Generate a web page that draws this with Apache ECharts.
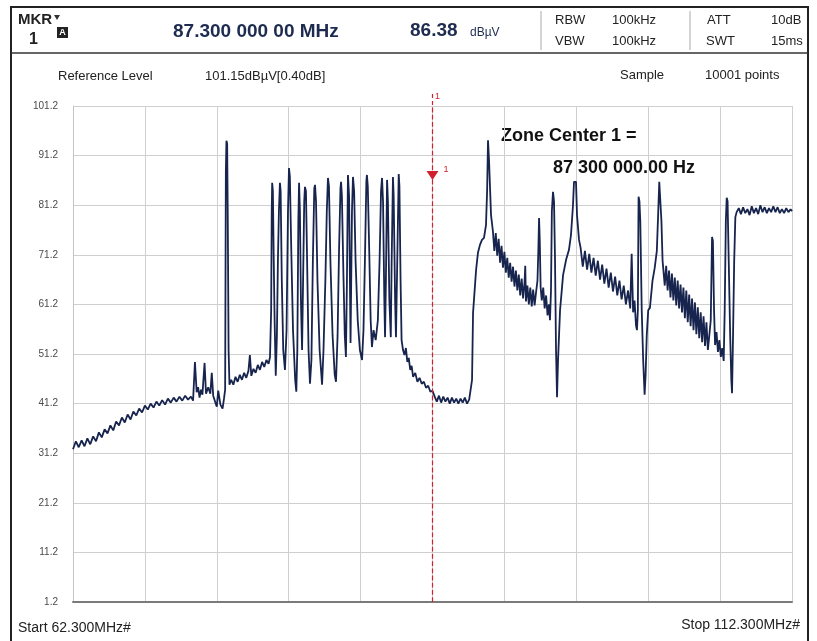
<!DOCTYPE html>
<html>
<head>
<meta charset="utf-8">
<script src="https://cdn.jsdelivr.net/npm/echarts@6/dist/echarts.min.js"></script>
<style>
  html, body { margin: 0; padding: 0; background: #fff; }
  #chart { width: 817px; height: 641px; }
</style>
</head>
<body>
<div id="chart"></div>
<script>
// 频谱仪截图：62.3 ~ 112.3 MHz，参考电平 101.2 dBµV，每格 10 dB
const yTickLabels = ['1.2', '11.2', '21.2', '31.2', '41.2', '51.2', '61.2', '71.2', '81.2', '91.2', '101.2'];

// 噪底上升段 + 72.9 MHz 尖峰
const freqA = [62.3, 62.5, 62.7, 62.9, 63.1, 63.3, 63.5, 63.7, 63.9, 64.1, 64.3, 64.5, 64.7, 64.9, 65.1, 65.3, 65.5, 65.7, 65.9, 66.1,
  66.3, 66.5, 66.7, 66.9, 67.1, 67.3, 67.5, 67.7, 67.9, 68.1, 68.3, 68.5, 68.7, 68.9, 69.1, 69.3, 69.5, 69.7, 69.9, 70.1, 70.3, 70.5,
  70.65, 70.78, 70.9, 71.0, 71.1, 71.2, 71.3, 71.45, 71.55, 71.7, 71.85, 71.95, 72.05, 72.2, 72.3, 72.4, 72.55, 72.7, 72.8, 72.88,
  72.93, 72.97, 73.02, 73.06, 73.12, 73.18];
const levelA = [32.0, 33.6, 32.4, 33.8, 32.6, 34.2, 33.0, 34.6, 33.6, 35.4, 34.4, 36.0, 35.2, 36.8, 35.8, 37.6, 36.8, 38.4, 37.4, 39.0,
  38.0, 39.6, 38.8, 40.2, 39.4, 40.8, 40.0, 41.2, 40.4, 41.6, 40.8, 41.9, 41.0, 42.2, 41.4, 42.4, 41.6, 42.6, 41.8, 42.8, 42.0, 42.6,
  41.8, 49.6, 43.5, 44.5, 42.4, 44.0, 43.0, 49.4, 43.2, 44.5, 43.2, 47.4, 42.8, 41.4, 40.6, 43.8, 41.0, 40.2, 42.2, 44.0,
  88.0, 94.2, 93.6, 80.0, 52.0, 45.0];

const freqB = [73.3, 73.45, 73.6, 73.75, 73.9, 74.05, 74.2, 74.35, 74.5, 74.6, 74.7, 74.85, 75.0, 75.15, 75.3, 75.45, 75.6, 75.75, 75.9];
const levelB = [46.0, 45.0, 46.6, 45.6, 47.0, 46.0, 47.4, 46.4, 47.8, 51.0, 46.8, 48.2, 47.4, 49.0, 48.0, 49.6, 48.6, 50.0, 49.2];

// 76 ~ 85 MHz 电台群
const freqC = [76.0, 76.08, 76.12, 76.15, 76.2, 76.26, 76.32, 76.4, 76.48, 76.55, 76.62, 76.69, 76.74, 76.82, 76.92, 77.04, 77.15, 77.25, 77.32, 77.38,
  77.48, 77.6, 77.75, 77.83, 77.9, 77.97, 78.02, 78.08, 78.15, 78.23, 78.3, 78.38, 78.43, 78.5, 78.58, 78.68, 78.78, 78.88, 78.98, 79.08,
  79.13, 79.2, 79.3, 79.45, 79.62, 79.72, 79.85, 79.95, 80.03, 80.1, 80.2, 80.35, 80.5, 80.59, 80.7, 80.8, 80.9, 80.94, 81.0, 81.1,
  81.2, 81.28, 81.35, 81.42, 81.5, 81.6, 81.7, 81.77, 81.85, 81.95, 82.1, 82.25, 82.4, 82.5, 82.6, 82.7, 82.74, 82.8, 82.9, 83.0,
  83.09, 83.2, 83.35, 83.5, 83.62, 83.72, 83.79, 83.86, 83.95, 84.0, 84.06, 84.14, 84.2, 84.3, 84.4, 84.46, 84.55, 84.6, 84.7, 84.76,
  84.85, 84.95, 85.0, 85.08, 85.15, 85.25, 85.35, 85.45, 85.55, 85.65, 85.75, 85.85, 85.95, 86.1, 86.25, 86.4, 86.55, 86.7, 86.85, 87.0,
  87.15, 87.3];
const levelC = [50.6, 60, 80, 85.7, 84.0, 70, 58, 46.8, 55, 70, 80, 85.7, 84.0, 66, 52, 48.0, 56, 80, 88.7, 87.0,
  72, 56, 46, 43.6, 52, 78, 85.7, 80, 62, 52.0, 66, 82, 84.9, 84.0, 70, 52, 45.2, 50, 70, 84.6,
  85.3, 82, 66, 52, 45.0, 52, 66, 80, 86.7, 85.0, 70, 55, 47, 45.6, 55, 72, 84.6, 85.9, 83, 68,
  55, 50.6, 66, 87.3, 83, 53.4, 80, 86.9, 84, 70, 58, 52, 50.0, 56, 70, 86, 87.3, 85, 72, 58,
  52.6, 56, 54, 58, 70, 84, 86.7, 82, 62, 54.6, 66, 86.3, 82, 62, 54.6, 70, 86.9, 83, 62, 54.6,
  70, 87.5, 85.0, 66, 54, 52.0, 51.0, 52.4, 49.6, 50.4, 48.0, 48.8, 46.6, 47.4, 45.6, 46.4, 45.2, 45.6, 44.4, 44.8,
  43.6, 43.8];

// 87.3 之后的平底 + 91.2 MHz 尖峰
const freqD = [87.45, 87.6, 87.75, 87.9, 88.05, 88.2, 88.35, 88.5, 88.65, 88.8, 88.95, 89.1, 89.25, 89.4, 89.55, 89.7, 89.85,
  89.95, 90.05, 90.12, 90.33, 90.46, 90.6, 90.74, 90.88, 91.02, 91.1, 91.16, 91.23, 91.37, 91.5];
const levelD = [42.6, 41.6, 42.8, 41.4, 42.6, 41.6, 42.4, 41.2, 42.4, 41.4, 42.2, 41.2, 42.2, 41.4, 42.4, 41.2, 42.0,
  41.6, 46.0, 59.5, 68.1, 71.6, 73.2, 74.2, 74.6, 77.2, 84.3, 94.3, 90.3, 79.2, 76.0];

const freqE = [91.6, 91.7, 91.8, 91.9, 92.0, 92.1, 92.2, 92.3, 92.4, 92.5, 92.6, 92.7, 92.8, 92.9, 93.0, 93.1, 93.2, 93.3, 93.4, 93.5,
  93.6, 93.7, 93.75, 93.8, 93.9, 94.0, 94.1, 94.2, 94.3, 94.4, 94.5, 94.6, 94.66, 94.71, 94.76, 94.82, 94.9, 95.0, 95.1, 95.2,
  95.3, 95.4, 95.47, 95.54, 95.6, 95.68, 95.75, 95.82, 95.89, 95.96, 96.03, 96.17, 96.38, 96.59, 96.79, 96.93, 97.07, 97.14, 97.28, 97.35,
  97.49];
const levelE = [72.0, 75.6, 71.0, 74.4, 69.6, 73.0, 68.6, 71.8, 67.6, 70.6, 66.6, 69.6, 65.8, 68.8, 64.8, 68.0, 64.0, 67.2, 63.0, 66.4,
  62.4, 65.6, 69.0, 61.8, 65.0, 61.2, 64.6, 60.8, 64.2, 61.0, 63.6, 66.0, 72.0, 78.6, 74.0, 64.6, 62.0, 64.6, 60.4, 63.0,
  59.0, 61.2, 58.0, 64.0, 80.0, 83.9, 82.0, 70.2, 52.0, 42.5, 50.0, 60.0, 67.1, 70.2, 72.2, 75.2, 81.2, 85.9, 85.9, 79.2,
  74.2];

const freqF = [97.6, 97.75, 97.9, 98.05, 98.2, 98.35, 98.5, 98.65, 98.8, 98.95, 99.1, 99.25, 99.4, 99.55, 99.7, 99.85, 100.0, 100.15, 100.3, 100.45,
  100.6, 100.75, 100.9, 101.05, 101.15, 101.25, 101.35, 101.45, 101.52, 101.58, 101.63, 101.69, 101.75, 101.85, 101.95, 102.05, 102.12, 102.2, 102.3, 102.42,
  102.6, 102.75, 102.9, 103.0, 103.07, 103.15, 103.22, 103.3];
const levelF = [72.6, 68.8, 72.0, 68.2, 71.4, 67.6, 70.6, 67.0, 70.0, 66.2, 69.2, 65.4, 68.4, 64.6, 67.6, 63.8, 66.8, 63.0, 66.0, 62.2,
  65.0, 61.2, 64.0, 60.4, 71.4, 59.6, 62.0, 57.0, 56.0, 60.0, 82.9, 82.0, 78.0, 60.0, 50.0, 43.0, 47.0, 55.0, 60.0, 60.5,
  66.0, 68.5, 72.0, 80.0, 85.9, 85.5, 78.0, 70.0];

// 103 ~ 108 MHz 以及右端平台
const freqG = [103.35, 103.45, 103.55, 103.65, 103.75, 103.85, 103.95, 104.05, 104.15, 104.25, 104.35, 104.45, 104.55, 104.65, 104.75, 104.85, 104.95, 105.05, 105.15, 105.25,
  105.35, 105.45, 105.55, 105.65, 105.75, 105.85, 105.95, 106.05, 106.15, 106.25, 106.35, 106.45, 106.55, 106.65, 106.74, 106.8, 106.88, 106.95, 107.05, 107.15,
  107.25, 107.35, 107.45, 107.55, 107.62, 107.7, 107.76, 107.82, 107.9, 108.0, 108.08, 108.13, 108.2, 108.28, 108.36, 108.45,
  108.6, 108.75, 108.9, 109.05, 109.2, 109.35, 109.5, 109.65, 109.8, 109.95, 110.1, 110.25, 110.4, 110.55, 110.7, 110.85, 111.0, 111.15,
  111.3, 111.45, 111.6, 111.75, 111.9, 112.05, 112.2, 112.3];
const levelG = [70.0, 65.0, 69.0, 64.0, 68.0, 62.6, 67.4, 62.0, 66.6, 61.0, 66.0, 60.4, 65.2, 59.6, 64.6, 58.4, 64.0, 57.6, 63.2, 56.8,
  62.4, 56.0, 61.6, 55.2, 60.6, 54.4, 59.6, 53.6, 58.8, 52.8, 57.6, 52.0, 55.0, 58.0, 74.8, 74.0, 60.0, 53.0, 55.6, 51.6,
  54.0, 50.6, 52.4, 49.8, 60.0, 78.0, 82.7, 82.0, 70.0, 55.0, 46.0, 43.3, 55.0, 70.0, 78.8, 79.8,
  80.6, 79.4, 80.8, 79.6, 80.4, 79.2, 81.0, 79.6, 80.6, 79.4, 81.2, 79.8, 80.8, 79.6, 80.6, 79.8, 81.0, 79.8,
  80.8, 79.6, 80.4, 79.6, 80.6, 79.8, 80.4, 80.0];

// marker 1
const markerFreq = 87.3;
const markerLevel = 86.38;

const freqMHz = [].concat(freqA, freqB, freqC, freqD, freqE, freqF, freqG);
const levelDb = [].concat(levelA, levelB, levelC, levelD, levelE, levelF, levelG);
const trace = freqMHz.map((f, i) => [f, levelDb[i]]);

const FONT = '"Liberation Sans", Arial, sans-serif';

function txt(x, y, text, size, opts) {
  opts = opts || {};
  return {
    type: 'text', x: x, y: y, silent: true,
    style: {
      text: text,
      font: (opts.bold ? 'bold ' : '') + size + 'px ' + FONT,
      fill: opts.color || '#222',
      textAlign: opts.align || 'left',
      textVerticalAlign: 'middle',
    },
  };
}

var myChart = echarts.init(document.getElementById('chart'));
let option = {
  animation: false,
  backgroundColor: '#fff',
  textStyle: { fontFamily: FONT },
  grid: { left: 73, right: 25, top: 106, bottom: 39, containLabel: false, outerBoundsMode: 'none' },
  xAxis: [
    { type: 'value', min: 62.3, max: 112.3, show: false },
    // 只用来画网格，10 格
    {
      type: 'value', min: 0, max: 50, interval: 5, position: 'bottom',
      axisLine: { show: true, onZero: false, lineStyle: { color: '#7a7a7a', width: 2 } },
      axisTick: { show: false },
      axisLabel: { show: false },
      splitLine: { show: true, lineStyle: { color: '#cfcfcf', width: 1 } },
    },
  ],
  yAxis: [
    { type: 'value', min: 1.2, max: 101.2, show: false },
    {
      type: 'value', min: 0, max: 100, interval: 10, position: 'left',
      axisLine: { show: true, onZero: false, lineStyle: { color: '#c4c4c4' } },
      axisTick: { show: false },
      axisLabel: {
        margin: 15, fontSize: 10, color: '#4a4a4a',
        formatter: (v) => yTickLabels[Math.round(v / 10)],
      },
      splitLine: { show: true, lineStyle: { color: '#cfcfcf', width: 1 } },
    },
  ],
  series: [
    {
      type: 'line',
      xAxisIndex: 0,
      yAxisIndex: 0,
      data: trace,
      showSymbol: false,
      sampling: 'none',
      lineStyle: { color: '#17244d', width: 1.8 },
      z: 3,
      markLine: {
        silent: true,
        symbol: 'none',
        label: { show: false },
        lineStyle: { color: '#d0202e', type: 'dashed', width: 1.2 },
        data: [{ xAxis: markerFreq }],
      },
      markPoint: {
        silent: true,
        symbol: 'triangle',
        symbolRotate: 180,
        symbolSize: [12, 9],
        symbolOffset: [0, -4],
        itemStyle: { color: '#d0202e' },
        label: { show: true, formatter: '1', position: 'right', color: '#d0202e', fontSize: 9, offset: [0, -6] },
        data: [{ coord: [markerFreq, markerLevel] }],
      },
    },
  ],
  graphic: [
    { type: 'rect', silent: true, shape: { x: 11, y: 7, width: 797, height: 650 }, style: { fill: null, stroke: '#222', lineWidth: 2 } },
    { type: 'line', silent: true, shape: { x1: 11, y1: 53, x2: 808, y2: 53 }, style: { stroke: '#333', lineWidth: 1.5 } },
    { type: 'line', silent: true, shape: { x1: 541, y1: 11, x2: 541, y2: 50 }, style: { stroke: '#aaa', lineWidth: 1 } },
    { type: 'line', silent: true, shape: { x1: 690, y1: 11, x2: 690, y2: 50 }, style: { stroke: '#aaa', lineWidth: 1 } },
    // 顶部读数
    txt(18, 20, 'MKR', 15, { bold: true }),
    { type: 'polygon', silent: true, shape: { points: [[54, 15], [60, 15], [57, 20]] }, style: { fill: '#333' } },
    txt(29, 40, '1', 16, { bold: true }),
    { type: 'rect', silent: true, shape: { x: 57, y: 27, width: 11, height: 11 }, style: { fill: '#222' } },
    txt(62.5, 32.5, 'A', 9, { bold: true, color: '#fff', align: 'center' }),
    txt(173, 32, '87.300 000 00 MHz', 19, { bold: true, color: '#1e2b50' }),
    txt(410, 31, '86.38', 19, { bold: true, color: '#1e2b50' }),
    txt(470, 33, 'dBµV', 12, { color: '#1e2b50' }),
    txt(555, 20, 'RBW', 13), txt(612, 20, '100kHz', 13),
    txt(555, 41, 'VBW', 13), txt(612, 41, '100kHz', 13),
    txt(707, 20, 'ATT', 13), txt(771, 20, '10dB', 13),
    txt(706, 41, 'SWT', 13), txt(771, 41, '15ms', 13),
    txt(58, 76, 'Reference Level', 13),
    txt(205, 76, '101.15dBµV[0.40dB]', 13),
    txt(620, 75, 'Sample', 13),
    txt(705, 75, '10001 points', 13),
    // 区域中心标注
    txt(501, 136, 'Zone Center 1 =', 18, { bold: true, color: '#111' }),
    txt(553, 168, '87 300 000.00 Hz', 18, { bold: true, color: '#111' }),
    txt(435, 97, '1', 9, { color: '#d0202e' }),
    { type: 'line', silent: true, shape: { x1: 432.5, y1: 94, x2: 432.5, y2: 106 }, style: { stroke: '#d0202e', lineWidth: 1.2, lineDash: [4, 3] } },
    // 底部起止频率
    txt(18, 628, 'Start 62.300MHz#', 14),
    txt(800, 625, 'Stop 112.300MHz#', 14, { align: 'right' }),
  ],
};
myChart.setOption(option);
</script>
</body>
</html>
